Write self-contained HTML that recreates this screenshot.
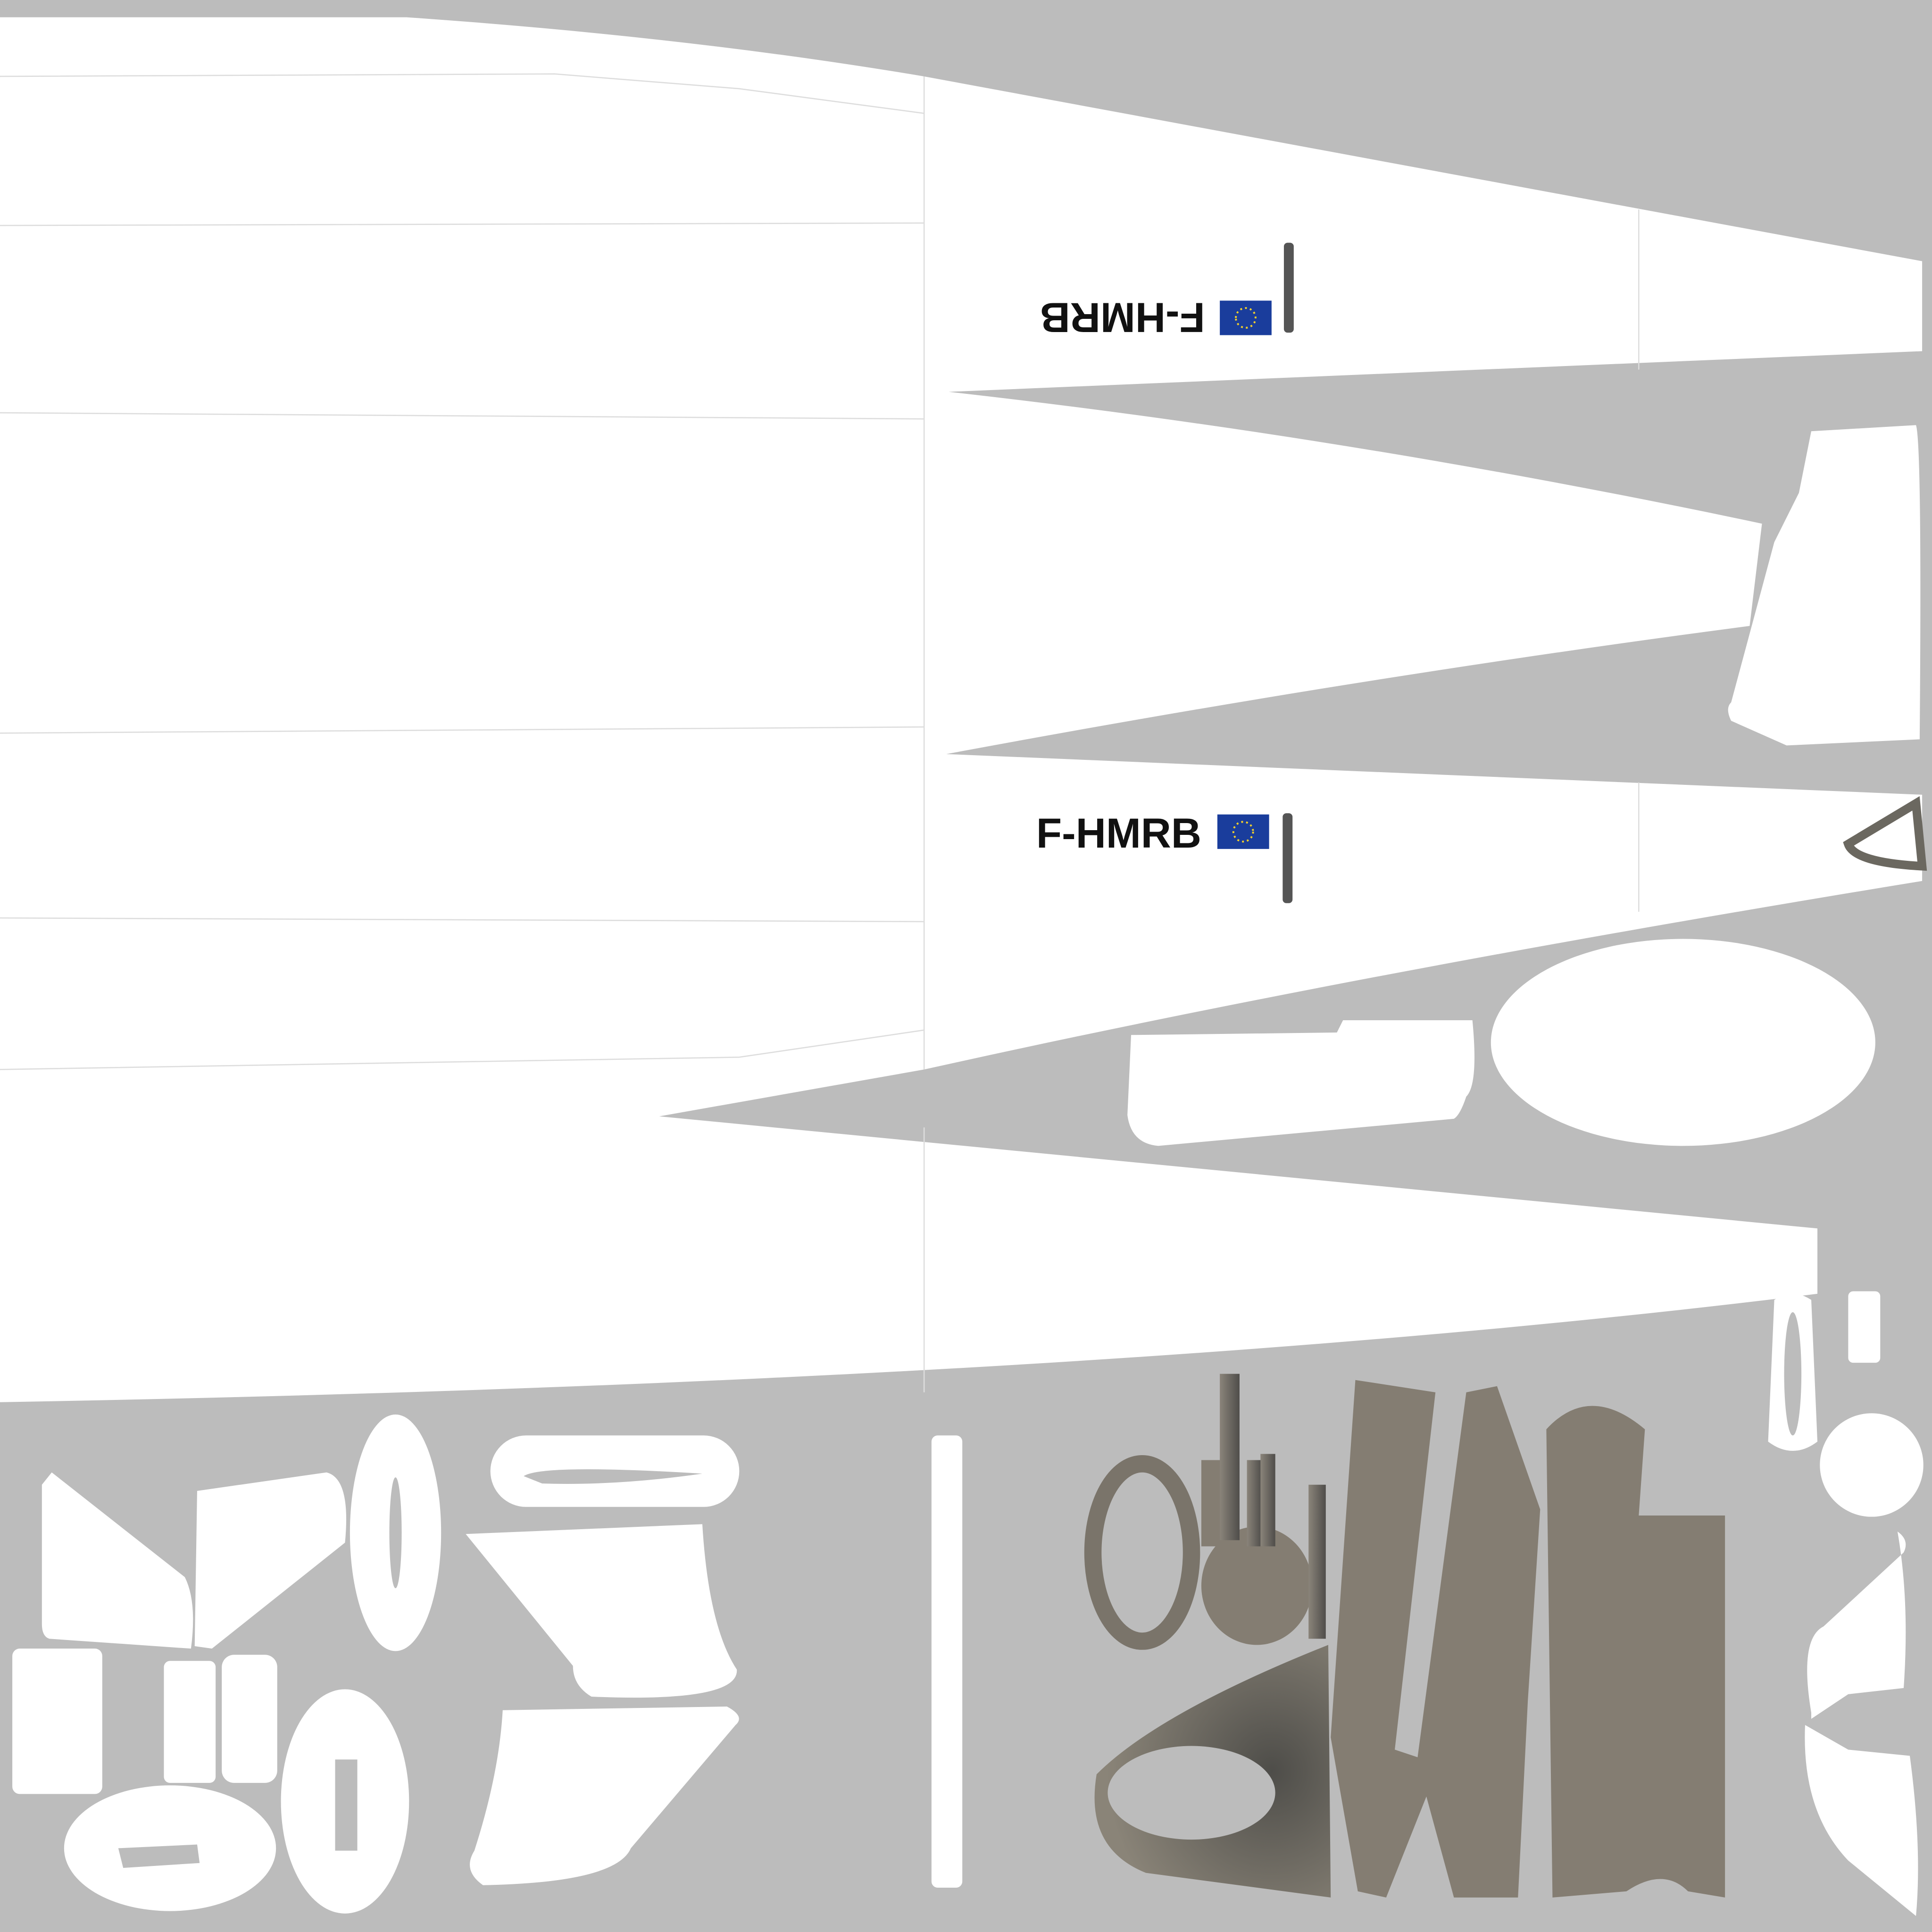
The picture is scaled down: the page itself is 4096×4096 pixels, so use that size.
<!DOCTYPE html>
<html><head><meta charset="utf-8"><style>
html,body{margin:0;padding:0;background:#bcbcbc;}
svg{display:block}
</style></head><body>
<svg width="4096" height="4096" viewBox="0 0 1568 1568" xmlns="http://www.w3.org/2000/svg">
<defs>
<radialGradient id="dg" cx="0.75" cy="0.5" r="0.7"><stop offset="0" stop-color="#4e4d49"/><stop offset="1" stop-color="#8a8478"/></radialGradient>
<linearGradient id="sg" x1="0" x2="1"><stop offset="0" stop-color="#8a847a"/><stop offset="1" stop-color="#4f4d4a"/></linearGradient>
</defs>
<rect width="1568" height="1568" fill="#bcbcbc"/>
<path fill="#fff" d="M0,14 L330,14 Q560,30 750,62 L1560,212 L1560,285 L770,318 Q1100,355 1430,425 L1420,508 Q1100,550 768,612 L1560,645 L1560,715 Q1100,790 750,868 L535,906 L1475,997 L1475,1050 Q900,1122 0,1138 Z"/>
<g stroke="#ddd" stroke-width="1" fill="none">
<line x1="750" y1="62" x2="750" y2="868"/>
<line x1="750" y1="915" x2="750" y2="1130"/>
<path d="M0,62 L450,60 L600,72 L750,92"/>
<line x1="0" y1="183" x2="750" y2="181"/>
<line x1="0" y1="335" x2="750" y2="340"/>
<line x1="0" y1="595" x2="750" y2="590"/>
<line x1="0" y1="745" x2="750" y2="748"/>
<path d="M0,868 L600,858 L750,836"/>
<line x1="1330" y1="170" x2="1330" y2="300"/>
<line x1="1330" y1="635" x2="1330" y2="740"/>
</g>
<rect x="1042" y="197" width="8" height="73" rx="3" fill="#555"/>
<rect x="1041" y="660" width="8" height="73" rx="3" fill="#555"/>
<g transform="rotate(180 937 258)">
<rect x="842" y="244" width="42" height="28" fill="#1a3d9c"/>
<circle cx="863" cy="258" r="8" fill="none" stroke="#f3d02b" stroke-width="1.5" stroke-dasharray="1.5 2.5"/>
<text x="896" y="270" font-family="Liberation Sans, sans-serif" font-weight="bold" font-size="34" fill="#111">F-HMRB</text>
</g>
<text x="841" y="688" font-family="Liberation Sans, sans-serif" font-weight="bold" font-size="34" fill="#111">F-HMRB</text>
<rect x="988" y="661" width="42" height="28" fill="#1a3d9c"/>
<circle cx="1009" cy="675" r="8" fill="none" stroke="#f3d02b" stroke-width="1.5" stroke-dasharray="1.5 2.5"/>
<g fill="#fff">
<path d="M1470,350 L1555,345 Q1560,360 1558,600 L1450,605 L1405,585 Q1400,575 1405,570 L1440,440 Q1450,420 1460,400 Z"/>
<ellipse cx="1366" cy="846" rx="156" ry="84"/>
<path d="M918,840 L1085,838 L1090,828 L1195,828 Q1200,880 1190,890 Q1185,905 1180,908 L940,930 Q918,928 915,905 Z"/>
<path d="M1440,1055 Q1455,1045 1470,1055 L1475,1170 Q1455,1185 1435,1170 Z"/>
<rect x="1500" y="1048" width="26" height="58" rx="4"/>
<circle cx="1519" cy="1189" r="42"/>
<path d="M1540,1243 Q1550,1250 1545,1260 L1480,1320 Q1460,1330 1470,1390 L1470,1395 L1500,1375 L1545,1370 Q1550,1300 1540,1243 Z"/>
<path d="M1465,1400 L1500,1420 L1550,1425 Q1560,1500 1555,1555 L1500,1510 Q1462,1470 1465,1400 Z"/>
<rect x="756" y="1165" width="25" height="367" rx="5"/>
<path d="M34,1205 L42,1195 L150,1280 Q160,1300 155,1338 L40,1330 Q34,1328 34,1318 Z"/>
<path d="M160,1210 L265,1195 Q285,1200 280,1252 L172,1338 L158,1336 Z"/>
<ellipse cx="321" cy="1244" rx="37" ry="96"/>
<rect x="398" y="1165" width="202" height="58" rx="29"/>
<path d="M378,1245 L570,1237 Q575,1320 598,1355 Q600,1382 480,1377 Q465,1368 465,1352 Z"/>
<path d="M408,1388 L590,1385 Q605,1393 597,1400 L512,1500 Q500,1528 392,1530 Q375,1518 385,1502 Q405,1440 408,1388 Z"/>
<rect x="10" y="1338" width="73" height="118" rx="6"/>
<rect x="133" y="1348" width="42" height="99" rx="5"/>
<rect x="180" y="1343" width="45" height="104" rx="10"/>
<ellipse cx="280" cy="1462" rx="52" ry="91"/>
<ellipse cx="138" cy="1500" rx="86" ry="51"/>
</g>
<g fill="#bcbcbc">
<ellipse cx="321" cy="1244" rx="5" ry="45"/>
<path d="M425,1198 Q440,1188 570,1196 Q500,1206 440,1204 Z"/>
<rect x="272" y="1428" width="18" height="74"/>
<path d="M96,1500 L160,1497 L162,1512 L100,1516 Z"/>
<ellipse cx="1455" cy="1115" rx="7" ry="50"/>
</g>
<path d="M1555,652 L1500,685 Q1505,700 1560,703 Z" fill="none" stroke="#6b6860" stroke-width="7"/>
<g fill="#847d72">
<ellipse cx="927" cy="1260" rx="40" ry="72" fill="none" stroke="#7a746a" stroke-width="14"/>
<ellipse cx="1020" cy="1287" rx="45" ry="48"/>
<rect x="975" y="1185" width="20" height="70"/>
<rect x="990" y="1115" width="16" height="135" fill="url(#sg)"/>
<rect x="1012" y="1185" width="12" height="70" fill="url(#sg)"/>
<rect x="1023" y="1180" width="12" height="75" fill="url(#sg)"/>
<rect x="1062" y="1205" width="14" height="125" fill="url(#sg)"/>
<path d="M1078,1335 Q940,1390 890,1440 Q880,1500 930,1520 L1080,1540 Z" fill="url(#dg)"/>
<ellipse cx="967" cy="1455" rx="68" ry="38" fill="#bcbcbc"/>
<path d="M1100,1120 L1165,1130 L1132,1420 L1168,1432 L1125,1540 L1102,1535 L1080,1410 Z"/>
<path d="M1190,1130 L1215,1125 L1250,1225 L1240,1380 L1232,1540 L1180,1540 L1150,1430 Z"/>
<path d="M1255,1160 Q1290,1122 1335,1160 L1330,1230 L1400,1230 L1400,1540 L1370,1535 Q1350,1515 1320,1535 L1260,1540 Z"/>
</g>
</svg>
</body></html>
